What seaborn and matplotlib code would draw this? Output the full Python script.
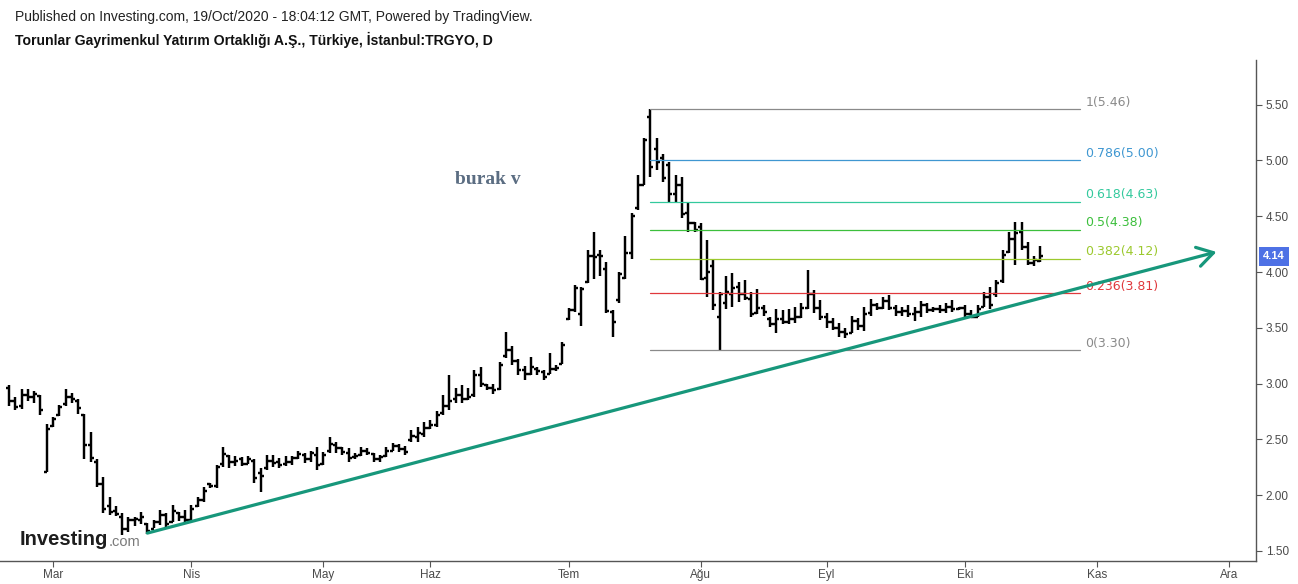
import numpy as np
import pandas as pd
import matplotlib
matplotlib.use("Agg")
import matplotlib.pyplot as plt
import matplotlib.transforms as mtransforms
import seaborn as sns

# ---------------- data ----------------
start_date = "2020-02-20"
end_calendar = "2020-12-31"
holidays = ["2020-04-23", "2020-05-01", "2020-05-19", "2020-05-25", "2020-05-26",
            "2020-07-15", "2020-07-31", "2020-08-03", "2020-10-29"]

opens = [2.96, 2.84, 2.80, 2.90, 2.88, 2.89, 2.21, 2.62, 2.72, 2.82,
         2.88, 2.84, 2.72, 2.45, 2.30, 2.10, 1.90, 1.86, 1.80, 1.70,
         1.78, 1.78, 1.74, 1.70, 1.76, 1.82, 1.76, 1.84, 1.80, 1.78,
         1.90, 1.96, 2.10, 2.08, 2.28, 2.35, 2.30, 2.32, 2.28, 2.31,
         2.20, 2.24, 2.31, 2.30, 2.28, 2.30, 2.33, 2.36, 2.32, 2.36,
         2.28, 2.40, 2.45, 2.42, 2.38, 2.34, 2.36, 2.40, 2.37, 2.32,
         2.35, 2.40, 2.44, 2.41, 2.49, 2.52, 2.55, 2.60, 2.63, 2.74,
         2.80, 2.86, 2.90, 2.86, 2.90, 3.08, 2.99, 2.96, 2.95, 3.25,
         3.30, 3.20, 3.12, 3.09, 3.13, 3.10, 3.09, 3.13, 3.18, 3.58,
         3.66, 3.62, 3.91, 4.14, 4.15, 4.03, 3.64, 3.75, 3.95, 4.17,
         4.57, 4.78, 5.39, 5.10, 5.02, 4.96, 4.70, 4.78, 4.53, 4.44,
         4.40, 3.95, 4.05, 3.60, 3.72, 3.80, 3.87, 3.80, 3.76, 3.63,
         3.68, 3.58, 3.53, 3.58, 3.55, 3.58, 3.60, 3.68, 3.80, 3.68,
         3.60, 3.55, 3.50, 3.46, 3.45, 3.56, 3.52, 3.63, 3.70, 3.68,
         3.74, 3.68, 3.64, 3.65, 3.62, 3.64, 3.70, 3.66, 3.67, 3.66,
         3.69, 3.67, 3.68, 3.62, 3.60, 3.69, 3.78, 3.80, 3.92, 4.18,
         4.30, 4.36, 4.22, 4.08, 4.10]
highs = [2.99, 2.88, 2.95, 2.95, 2.93, 2.90, 2.64, 2.70, 2.81, 2.95,
         2.92, 2.86, 2.73, 2.57, 2.32, 2.16, 1.98, 1.90, 1.84, 1.80,
         1.80, 1.85, 1.75, 1.78, 1.87, 1.84, 1.91, 1.85, 1.87, 1.91,
         1.98, 2.07, 2.11, 2.27, 2.43, 2.36, 2.35, 2.34, 2.35, 2.32,
         2.24, 2.36, 2.36, 2.33, 2.35, 2.35, 2.40, 2.38, 2.40, 2.43,
         2.39, 2.52, 2.48, 2.43, 2.42, 2.38, 2.43, 2.42, 2.38, 2.36,
         2.43, 2.47, 2.46, 2.44, 2.58, 2.61, 2.66, 2.67, 2.75, 2.90,
         3.08, 2.96, 2.99, 2.96, 3.12, 3.15, 3.00, 3.00, 3.19, 3.46,
         3.34, 3.22, 3.16, 3.24, 3.15, 3.12, 3.27, 3.17, 3.37, 3.68,
         3.88, 3.87, 4.20, 4.36, 4.20, 4.09, 3.66, 4.00, 4.32, 4.53,
         4.87, 5.20, 5.46, 5.20, 5.06, 4.99, 4.87, 4.85, 4.62, 4.45,
         4.44, 4.29, 4.12, 3.82, 3.96, 3.99, 3.91, 3.93, 3.82, 3.85,
         3.70, 3.60, 3.67, 3.66, 3.67, 3.69, 3.72, 4.02, 3.84, 3.75,
         3.63, 3.59, 3.54, 3.50, 3.61, 3.59, 3.69, 3.76, 3.72, 3.78,
         3.79, 3.70, 3.69, 3.70, 3.69, 3.74, 3.72, 3.69, 3.70, 3.72,
         3.75, 3.69, 3.70, 3.66, 3.70, 3.82, 3.87, 3.93, 4.20, 4.36,
         4.45, 4.45, 4.27, 4.14, 4.23]
lows = [2.80, 2.76, 2.77, 2.84, 2.83, 2.72, 2.21, 2.61, 2.71, 2.80,
        2.83, 2.73, 2.32, 2.30, 2.07, 1.84, 1.82, 1.81, 1.64, 1.67,
        1.72, 1.74, 1.65, 1.71, 1.73, 1.71, 1.76, 1.77, 1.76, 1.78,
        1.89, 1.94, 2.06, 2.06, 2.25, 2.24, 2.26, 2.26, 2.28, 2.11,
        2.03, 2.23, 2.25, 2.24, 2.26, 2.27, 2.32, 2.29, 2.30, 2.23,
        2.27, 2.38, 2.38, 2.36, 2.30, 2.32, 2.35, 2.36, 2.30, 2.30,
        2.34, 2.40, 2.39, 2.36, 2.48, 2.48, 2.52, 2.59, 2.61, 2.72,
        2.76, 2.83, 2.83, 2.85, 2.88, 2.97, 2.94, 2.91, 2.94, 3.23,
        3.17, 3.08, 3.03, 3.08, 3.08, 3.03, 3.09, 3.11, 3.18, 3.57,
        3.64, 3.52, 3.90, 3.94, 3.96, 3.63, 3.42, 3.72, 3.94, 4.12,
        4.56, 4.78, 4.85, 4.91, 4.81, 4.62, 4.62, 4.48, 4.36, 4.36,
        3.93, 3.78, 3.66, 3.30, 3.67, 3.69, 3.73, 3.75, 3.60, 3.62,
        3.61, 3.51, 3.45, 3.53, 3.53, 3.54, 3.59, 3.67, 3.63, 3.57,
        3.50, 3.48, 3.42, 3.41, 3.45, 3.48, 3.47, 3.61, 3.66, 3.67,
        3.66, 3.61, 3.61, 3.60, 3.56, 3.60, 3.63, 3.64, 3.63, 3.63,
        3.64, 3.66, 3.60, 3.59, 3.60, 3.69, 3.67, 3.78, 3.90, 4.17,
        4.06, 4.20, 4.06, 4.05, 4.09]
closes = [2.84, 2.79, 2.90, 2.88, 2.91, 2.76, 2.59, 2.68, 2.79, 2.88,
          2.86, 2.78, 2.45, 2.33, 2.10, 1.88, 1.85, 1.83, 1.70, 1.78,
          1.79, 1.80, 1.68, 1.76, 1.82, 1.74, 1.86, 1.80, 1.78, 1.88,
          1.96, 2.04, 2.08, 2.25, 2.37, 2.30, 2.31, 2.28, 2.32, 2.15,
          2.17, 2.31, 2.29, 2.27, 2.30, 2.33, 2.37, 2.32, 2.38, 2.27,
          2.36, 2.46, 2.42, 2.39, 2.33, 2.35, 2.40, 2.38, 2.32, 2.34,
          2.40, 2.44, 2.41, 2.39, 2.53, 2.56, 2.60, 2.63, 2.72, 2.80,
          2.84, 2.90, 2.86, 2.88, 3.08, 3.00, 2.96, 2.94, 3.17, 3.30,
          3.20, 3.12, 3.09, 3.15, 3.11, 3.06, 3.13, 3.14, 3.35, 3.66,
          3.86, 3.85, 4.14, 4.13, 4.14, 3.65, 3.55, 3.98, 4.17, 4.50,
          4.78, 5.18, 4.94, 4.99, 4.84, 4.70, 4.78, 4.52, 4.44, 4.38,
          3.94, 4.00, 3.70, 3.80, 3.82, 3.86, 3.80, 3.77, 3.62, 3.68,
          3.64, 3.53, 3.58, 3.55, 3.58, 3.60, 3.68, 3.80, 3.68, 3.60,
          3.55, 3.50, 3.46, 3.44, 3.56, 3.52, 3.62, 3.70, 3.68, 3.74,
          3.68, 3.64, 3.65, 3.62, 3.64, 3.70, 3.66, 3.67, 3.66, 3.69,
          3.67, 3.68, 3.62, 3.60, 3.67, 3.78, 3.70, 3.90, 4.15, 4.30,
          4.35, 4.22, 4.08, 4.11, 4.14]

month_names = ["Oca", "Şub", "Mar", "Nis", "May", "Haz",
               "Tem", "Ağu", "Eyl", "Eki", "Kas", "Ara"]
y_ticks = [1.50, 2.00, 2.50, 3.00, 3.50, 4.00, 4.50, 5.00, 5.50]

fib_ratios = [1, 0.786, 0.618, 0.5, 0.382, 0.236, 0]
fib_prices = [5.46, 5.00, 4.63, 4.38, 4.12, 3.81, 3.30]
fib_colors = ["#8a8a8a", "#3f97d1", "#33c99d", "#3cbf3c", "#9cc92e", "#e0383c", "#8a8a8a"]
fib_end_date = "2020-10-27"

trend_dates = ["2020-03-23", "2020-11-27"]
trend_prices = [1.66, 4.18]

last_price = closes[-1]

title_line1 = "Published on Investing.com, 19/Oct/2020 - 18:04:12 GMT, Powered by TradingView."
title_line2 = "Torunlar Gayrimenkul Yatırım Ortaklığı A.Ş., Türkiye, İstanbul:TRGYO, D"
author = "burak v"

# ---------------- calendar (trading-day axis) ----------------
cal = pd.bdate_range(start_date, end_calendar)
cal = cal[~cal.isin(pd.to_datetime(holidays))]
pos_of = {d: i for i, d in enumerate(cal)}

def pos(datestr):
    return pos_of[pd.Timestamp(datestr)]

n = len(opens)
x = np.arange(n)

# ---------------- style ----------------
sns.set_theme(style="white")
plt.rcParams["font.family"] = ["Liberation Sans", "DejaVu Sans"]

W, H = 1298, 584
fig = plt.figure(figsize=(W / 100, H / 100), dpi=100)
ax = fig.add_axes([0.0, 1 - 561 / H, 1256 / W, (561 - 60) / H])

# OHLC bars
bar_lw = 1.75
tick_w = 0.48
ax.vlines(x, lows, highs, color="black", lw=bar_lw, capstyle="butt")
ax.hlines(opens, x - tick_w, x, color="black", lw=bar_lw, capstyle="butt")
ax.hlines(closes, x, x + tick_w, color="black", lw=bar_lw, capstyle="butt")

# Fibonacci retracement lines (seaborn)
fib_start = int(np.argmax(highs))
fib_end = pos(fib_end_date) + 0.3
fib_labels = [f"{r:g}({p:.2f})" for r, p in zip(fib_ratios, fib_prices)]
fib_df = pd.DataFrame({
    "x": [fib_start, fib_end] * len(fib_ratios),
    "price": [p for p in fib_prices for _ in range(2)],
    "level": [lab for lab in fib_labels for _ in range(2)],
})
sns.lineplot(data=fib_df, x="x", y="price", hue="level",
             palette=dict(zip(fib_labels, fib_colors)), legend=False,
             estimator=None, sort=False, lw=0.9, ax=ax)
for lab, p, c in zip(fib_labels, fib_prices, fib_colors):
    ax.annotate(lab, xy=(fib_end, p), xytext=(4, 5), textcoords="offset points",
                ha="left", va="center", color=c, fontsize=9,
                family=["DejaVu Sans"])

# Trend line with arrow
tx = [pos(d) for d in trend_dates]
ax.annotate("", xy=(tx[1], trend_prices[1]), xytext=(tx[0], trend_prices[0]),
            arrowprops=dict(arrowstyle="->,head_length=1.15,head_width=0.7",
                            color="#17977b", lw=2.3, shrinkA=0, shrinkB=0,
                            mutation_scale=10))

# Axes limits / ticks
px_per_bar = 6.289
ax.set_xlim(-9 / px_per_bar, (1256 - 9) / px_per_bar)
ax.set_ylim(1.41, 5.90)

month_pos, month_lab = [], []
for m in range(1, 13):
    sel = [i for i, d in enumerate(cal) if d.month == m]
    if sel:
        month_pos.append(sel[0])
        month_lab.append(month_names[m - 1])
keep = [k for k, p in enumerate(month_pos) if p > 0]
ax.set_xticks([month_pos[k] for k in keep])
ax.set_xticklabels([month_lab[k] for k in keep])

ax.yaxis.tick_right()
ax.set_yticks(y_ticks)
ax.set_yticklabels([f"{v:.2f}" for v in y_ticks])
ax.tick_params(axis="both", which="both", direction="out", length=4, width=0.8,
               color="#555555", labelcolor="#4a4a4a", labelsize=8.5)
ax.tick_params(axis="y", pad=3, right=True, left=False)
ax.tick_params(axis="x", pad=2, bottom=True)
ax.set_xlabel("")
ax.set_ylabel("")
for side in ["top", "left"]:
    ax.spines[side].set_visible(False)
for side in ["right", "bottom"]:
    ax.spines[side].set_color("#555555")
    ax.spines[side].set_linewidth(1.0)
ax.grid(False)

# Last price badge
trans = mtransforms.blended_transform_factory(ax.transAxes, ax.transData)
ax.annotate(f"{last_price:.2f}", xy=(1.0, last_price), xycoords=trans,
            xytext=(5, 0), textcoords="offset points", ha="left", va="center",
            color="white", fontsize=8, fontweight="bold", annotation_clip=False,
            bbox=dict(boxstyle="square,pad=0.38", fc="#4e71e5", ec="none"))

# Header texts
fig.text(15 / W, 1 - 17 / H, title_line1, ha="left", va="center",
         fontsize=10.0, color="#222222")
fig.text(15 / W, 1 - 40 / H, title_line2, ha="left", va="center",
         fontsize=10.1, fontweight="bold", color="#111111")

# Author watermark
fig.text(455 / W, 1 - 180 / H, author, ha="left", va="center", fontsize=14,
         fontweight="bold", color="#5b6d82", family=["Liberation Serif", "DejaVu Serif"])

# Investing.com logo
logo = fig.text(20 / W, 1 - 545 / H, "Investing", ha="left", va="baseline",
                fontsize=14.5, fontweight="bold", color="#1d1d1d")
ax.annotate(".com", xy=(1, 0), xycoords=logo, xytext=(0, 0),
            textcoords="offset points", ha="left", va="bottom",
            fontsize=10.5, color="#7a7a7a", annotation_clip=False)

fig.savefig("out.png", dpi=100)
